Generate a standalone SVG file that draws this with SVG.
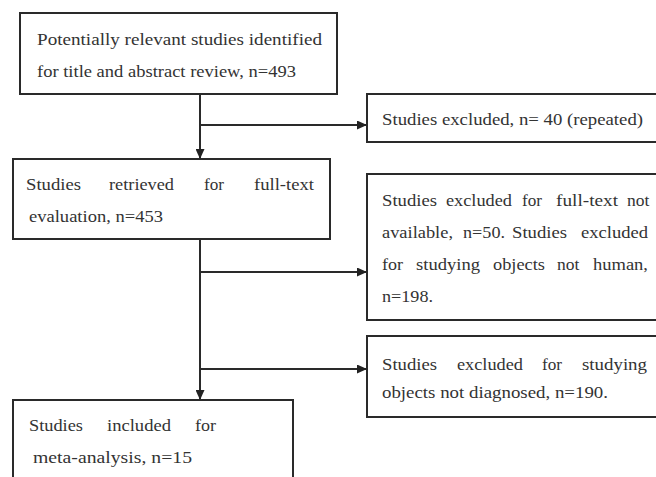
<svg xmlns="http://www.w3.org/2000/svg" width="656" height="477" viewBox="0 0 656 477">
<defs>
<marker id="arr" markerWidth="10" markerHeight="9" refX="10" refY="4.5" orient="auto" markerUnits="userSpaceOnUse">
<path d="M0,0 L10,4.5 L0,9 Z" fill="#222"/>
</marker>
<style>
.box{fill:#fff;stroke:#2a2a2a;stroke-width:2}
.t{font-family:"Liberation Serif","Times New Roman",serif;font-size:17.5px;fill:#333}
.c{stroke:#2a2a2a;stroke-width:2;fill:none}
</style>
</defs>
<rect width="656" height="477" fill="#fff"/>
<g id="connectors">
<line class="c" x1="200" y1="94" x2="200" y2="159" marker-end="url(#arr)"/>
<line class="c" x1="200" y1="125" x2="367" y2="125" marker-end="url(#arr)"/>
<line class="c" x1="200" y1="239" x2="200" y2="400" marker-end="url(#arr)"/>
<line class="c" x1="200" y1="272" x2="367" y2="272" marker-end="url(#arr)"/>
<line class="c" x1="200" y1="369" x2="367" y2="369" marker-end="url(#arr)"/>
</g>
<g id="n1">
<rect class="box" x="20" y="13" width="317" height="81"/>
<text class="t" x="37" y="45" textLength="285" lengthAdjust="spacingAndGlyphs">Potentially relevant studies identified</text>
<text class="t" x="37" y="77" textLength="259" lengthAdjust="spacingAndGlyphs">for title and abstract review, n=493</text>
</g>
<g id="n2">
<rect class="box" x="367" y="94" width="300" height="48"/>
<text class="t" x="382" y="125" textLength="261" lengthAdjust="spacingAndGlyphs">Studies excluded, n= 40 (repeated)</text>
</g>
<g id="n3">
<rect class="box" x="13" y="159" width="317" height="80"/>
<text class="t" y="190"><tspan x="26" textLength="55" lengthAdjust="spacingAndGlyphs">Studies</tspan> <tspan x="109" textLength="65" lengthAdjust="spacingAndGlyphs">retrieved</tspan> <tspan x="204" textLength="20" lengthAdjust="spacingAndGlyphs">for</tspan> <tspan x="254" textLength="60" lengthAdjust="spacingAndGlyphs">full-text</tspan></text>
<text class="t" x="29" y="222" textLength="134" lengthAdjust="spacingAndGlyphs">evaluation, n=453</text>
</g>
<g id="n4">
<rect class="box" x="367" y="174" width="300" height="146"/>
<text class="t" y="206"><tspan x="382" textLength="55" lengthAdjust="spacingAndGlyphs">Studies</tspan> <tspan x="446" textLength="66" lengthAdjust="spacingAndGlyphs">excluded</tspan> <tspan x="522" textLength="20" lengthAdjust="spacingAndGlyphs">for</tspan> <tspan x="556" textLength="62" lengthAdjust="spacingAndGlyphs">full-text</tspan> <tspan x="627">not</tspan></text>
<text class="t" y="238"><tspan x="382" textLength="71" lengthAdjust="spacingAndGlyphs">available,</tspan> <tspan x="463" textLength="42" lengthAdjust="spacingAndGlyphs">n=50.</tspan> <tspan x="512" textLength="55" lengthAdjust="spacingAndGlyphs">Studies</tspan> <tspan x="581" textLength="67" lengthAdjust="spacingAndGlyphs">excluded</tspan></text>
<text class="t" y="270"><tspan x="382" textLength="21" lengthAdjust="spacingAndGlyphs">for</tspan> <tspan x="416" textLength="64" lengthAdjust="spacingAndGlyphs">studying</tspan> <tspan x="493" textLength="52" lengthAdjust="spacingAndGlyphs">objects</tspan> <tspan x="557">not</tspan> <tspan x="593" textLength="55" lengthAdjust="spacingAndGlyphs">human,</tspan></text>
<text class="t" x="382" y="302" textLength="51" lengthAdjust="spacingAndGlyphs">n=198.</text>
</g>
<g id="n5">
<rect class="box" x="367" y="336" width="300" height="81"/>
<text class="t" y="370"><tspan x="382" textLength="55" lengthAdjust="spacingAndGlyphs">Studies</tspan> <tspan x="457" textLength="66" lengthAdjust="spacingAndGlyphs">excluded</tspan> <tspan x="542" textLength="20" lengthAdjust="spacingAndGlyphs">for</tspan> <tspan x="582" textLength="65" lengthAdjust="spacingAndGlyphs">studying</tspan></text>
<text class="t" x="382" y="398" textLength="226" lengthAdjust="spacingAndGlyphs">objects not diagnosed, n=190.</text>
</g>
<g id="n6">
<rect class="box" x="13" y="400" width="280" height="90"/>
<text class="t" y="431"><tspan x="29" textLength="54" lengthAdjust="spacingAndGlyphs">Studies</tspan> <tspan x="107" textLength="64" lengthAdjust="spacingAndGlyphs">included</tspan> <tspan x="195" textLength="21" lengthAdjust="spacingAndGlyphs">for</tspan></text>
<text class="t" x="33" y="463" textLength="159" lengthAdjust="spacingAndGlyphs">meta-analysis, n=15</text>
</g>
</svg>
